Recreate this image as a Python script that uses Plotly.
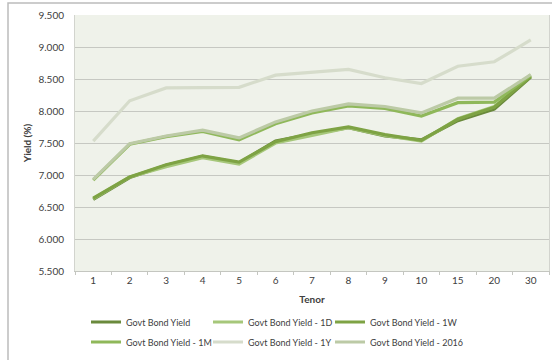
import plotly.graph_objects as go

# Tenor buckets (years) and yield curves in percent
tenors = ["1", "2", "3", "4", "5", "6", "7", "8", "9", "10", "15", "20", "30"]

govt_yield = [6.62, 6.96, 7.15, 7.29, 7.19, 7.53, 7.64, 7.74, 7.61, 7.55, 7.85, 8.03, 8.53]
yield_1d = [6.63, 6.97, 7.13, 7.27, 7.17, 7.50, 7.62, 7.74, 7.62, 7.53, 7.88, 8.07, 8.55]
yield_1w = [6.64, 6.97, 7.16, 7.30, 7.20, 7.52, 7.66, 7.75, 7.63, 7.54, 7.87, 8.06, 8.54]
yield_1m = [6.92, 7.48, 7.60, 7.68, 7.55, 7.80, 7.97, 8.08, 8.04, 7.92, 8.13, 8.14, 8.56]
yield_1y = [7.53, 8.16, 8.36, 8.36, 8.37, 8.56, 8.61, 8.65, 8.52, 8.43, 8.70, 8.77, 9.11]
yield_2016 = [6.93, 7.49, 7.61, 7.70, 7.58, 7.83, 8.00, 8.11, 8.07, 7.97, 8.20, 8.20, 8.57]

y_ticks = [5.5, 6.0, 6.5, 7.0, 7.5, 8.0, 8.5, 9.0, 9.5]

series_names = ["Govt Bond Yield", "Govt Bond Yield - 1D", "Govt Bond Yield - 1W",
                "Govt Bond Yield - 1M", "Govt Bond Yield - 1Y", "Govt Bond Yield - 2016"]
series_values = [govt_yield, yield_1d, yield_1w, yield_1m, yield_1y, yield_2016]
series_colors = ["#6a8a3c", "#a6c77a", "#7ea344", "#8fb85a", "#d6dccb", "#bccaa6"]

FONT = "Lato, 'Open Sans', sans-serif"
TEXT = "#404040"

# legend grid: 3 columns x 2 rows, one single-entry legend per series
legend_cols_px = [86, 208, 330]
legend_rows_px = [322, 342]

fig = go.Figure()
legends = {}
for i, (name, vals, color) in enumerate(zip(series_names, series_values, series_colors)):
    key = "legend" if i == 0 else f"legend{i + 1}"
    fig.add_trace(go.Scatter(
        x=tenors, y=vals, name=name, mode="lines",
        line=dict(color=color, width=3.2),
        legend=key,
    ))
    legends[key] = dict(
        orientation="h",
        xref="container", yref="container",
        xanchor="left", yanchor="middle",
        x=legend_cols_px[i % 3] / 552,
        y=1 - legend_rows_px[i // 3] / 360,
        itemwidth=30,
        font=dict(family=FONT, size=9, color=TEXT),
        bgcolor="rgba(0,0,0,0)",
    )

fig.update_layout(
    width=552, height=360,
    margin=dict(l=75, r=3, t=15, b=89),
    paper_bgcolor="white",
    plot_bgcolor="#eff2ea",
    font=dict(family=FONT, size=10, color=TEXT),
    showlegend=True,
    xaxis=dict(
        type="category",
        range=[-0.5, len(tenors) - 0.5],
        title=dict(text="<b>Tenor</b>", font=dict(size=10, color=TEXT), standoff=10),
        showgrid=False,
        showline=True, linecolor="#c4c6c0", linewidth=1,
        ticks="outside", tickson="boundaries", ticklen=3, tickcolor="#c4c6c0",
        tickfont=dict(size=10, color=TEXT),
    ),
    yaxis=dict(
        range=[5.5, 9.5],
        tickvals=y_ticks,
        tickformat=".3f",
        title=dict(text="<b>Yield (%)</b>", font=dict(size=10, color=TEXT), standoff=4),
        showgrid=True, gridcolor="#c6c8c2", gridwidth=1.3,
        zeroline=False,
        showline=True, linecolor="#d2d4ce", linewidth=1, mirror=True,
        ticks="outside", ticklen=8, tickcolor="rgba(0,0,0,0)",
        tickfont=dict(size=10, color=TEXT),
    ),
    shapes=[
        # outer chart frame
        dict(type="rect", xref="paper", yref="paper",
             x0=(8 - 75) / 474, x1=(560 - 75) / 474,
             y0=(271 - 370) / 256, y1=(271 - 3) / 256,
             line=dict(color="#bcbcbc", width=1.5), fillcolor="rgba(0,0,0,0)",
             layer="below"),
    ],
    **legends,
)

fig.write_html("out.html")
